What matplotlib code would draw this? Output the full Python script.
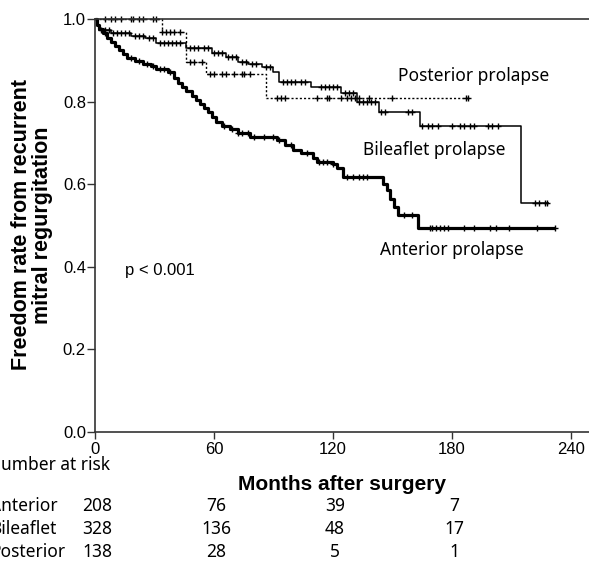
import numpy as np
import matplotlib
matplotlib.use('Agg')
from matplotlib import pyplot as plt
import matplotlib.transforms as mtransforms

# Kaplan-Meier steps (months, survival)
ant_t = [0, 1, 2, 4, 6, 8, 10, 12, 14, 16, 20, 24, 28, 31, 37, 40, 42, 44, 46, 49,
         51, 53, 55, 57, 59, 61, 64, 68, 72, 78, 92, 96, 100, 104, 110, 112, 120,
         122, 125, 145, 147, 149, 151, 153, 163, 232]
ant_s = [1.0, .985, .975, .965, .955, .945, .935, .925, .915, .905, .898, .892, .886,
         .880, .872, .857, .846, .835, .825, .814, .804, .794, .785, .774, .763, .750,
         .742, .733, .724, .714, .707, .695, .683, .675, .663, .654, .650, .639, .617,
         .600, .585, .565, .545, .525, .494, .494]
ant_cens = [5, 18, 22, 26, 29, 33, 35, 38, 65, 69, 72, 74, 77, 80, 85, 90, 93, 99,
            107, 113, 115, 117, 120, 127, 130, 133, 135, 137, 156, 160, 169, 170, 172,
            174, 176, 178, 186, 191, 199, 202, 209, 223, 232]

bil_t = [0, 1, 2, 8, 18, 25, 31, 46, 59, 66, 72, 77, 84, 90, 93, 109, 124, 132, 143,
         164, 215, 229]
bil_s = [1.0, .985, .973, .966, .960, .955, .942, .930, .918, .908, .896, .890, .884,
         .872, .847, .835, .821, .799, .775, .741, .554, .554]
bil_cens = [3, 5, 7, 9, 11, 13, 15, 17, 20, 22, 24, 27, 29, 33, 35, 37, 39, 41, 43,
            48, 50, 52, 55, 57, 60, 62, 64, 67, 69, 71, 74, 76, 79, 81, 86, 88, 95, 97,
            99, 101, 104, 106, 114, 116, 118, 120, 122, 126, 128, 130, 133, 135, 137,
            139, 141, 144, 146, 158, 160, 165, 168, 170, 173, 180, 184, 186, 189, 191,
            198, 200, 203, 222, 224, 227, 228]

pos_t = [0, 34, 46, 56, 86, 188]
pos_s = [1.0, .969, .896, .867, .809, .809]
pos_cens = [5, 8, 10, 13, 18, 19, 22, 24, 29, 31, 34, 36, 38, 40, 43, 48, 50, 54, 58,
            60, 64, 66, 70, 74, 75, 78, 92, 94, 96, 112, 117, 118, 124, 127, 129, 131,
            133, 138, 150, 187, 188]

risk_months = [0, 60, 120, 180]
risk_groups = ['Anterior', 'Bileaflet', 'Posterior']
risk_counts = [[208, 76, 39, 7],
               [328, 136, 48, 17],
               [138, 28, 5, 1]]

W, H = 589, 565
fig = plt.figure(figsize=(W / 100, H / 100), dpi=100)
ax = fig.add_axes([95 / W, 133 / H, 494 / W, 413 / H])

def km(t, s, cens, lw, ls):
    t = np.array(t, float)
    s = np.array(s, float)
    ax.step(t, s, where='post', color='black', lw=lw, ls=ls, clip_on=False,
            solid_capstyle='butt')
    c = np.array(cens, float)
    cy = s[np.searchsorted(t, c, side='right') - 1]
    ax.plot(c, cy, '+', color='black', ms=5, mew=1, clip_on=False)

km(pos_t, pos_s, pos_cens, 1.0, (0, (1.5, 1.5)))
km(bil_t, bil_s, bil_cens, 1.1, '-')
km(ant_t, ant_s, ant_cens, 2.3, '-')

ax.set_xlim(0, 249.1)
ax.set_ylim(0, 1.0)
ax.set_xticks([0, 60, 120, 180, 240])
ax.set_yticks([0, 0.2, 0.4, 0.6, 0.8, 1.0])
ax.set_yticklabels(['%.1f' % v for v in ax.get_yticks()])
for lab in ax.get_xticklabels() + ax.get_yticklabels():
    lab.set_family('Liberation Sans')
    lab.set_fontsize(12)
ax.tick_params(axis='y', length=6, width=1, pad=0.5, color='#333333')
ax.tick_params(axis='x', length=5, width=1, pad=2.5, color='#333333')
ax.spines['right'].set_visible(False)
for sp in ['left', 'bottom', 'top']:
    ax.spines[sp].set_linewidth(1.2)
    ax.spines[sp].set_color('#333333')

lab_font = dict(family='Noto Sans', fontsize=12.5, ha='center', va='center')
ax.text(191, 0.862, 'Posterior prolapse', **lab_font)
ax.text(171, 0.682, 'Bileaflet prolapse', **lab_font)
ax.text(180, 0.440, 'Anterior prolapse', **lab_font)
ax.text(32.5, 0.39, 'p < 0.001', family='Liberation Sans', fontsize=12,
        ha='center', va='center')

fig.text(32 / W, 1 - 225 / H, 'Freedom rate from recurrent\nmitral regurgitation',
         family='Liberation Sans', fontweight='bold', fontsize=15.5, rotation=90,
         ha='center', va='center', linespacing=1.05, multialignment='center')
fig.text(342 / W, 1 - 490 / H, 'Months after surgery', family='Liberation Sans',
         fontweight='bold', fontsize=15, ha='center', va='baseline')

# number at risk table
tab = dict(family='Noto Sans', fontsize=12.5, va='baseline')
trans = mtransforms.blended_transform_factory(ax.transData, fig.transFigure)
fig.text(-12 / W, 1 - 470 / H, 'Number at risk', ha='left', **tab)
for i, g in enumerate(risk_groups):
    yb = 1 - (511 + 23 * i) / H
    fig.text(-10 / W, yb, g, ha='left', **tab)
    for m, n in zip(risk_months, risk_counts[i]):
        ax.text(m + 1, yb, str(n), transform=trans, ha='center', clip_on=False, **tab)

fig.savefig('out.png', dpi=100)
